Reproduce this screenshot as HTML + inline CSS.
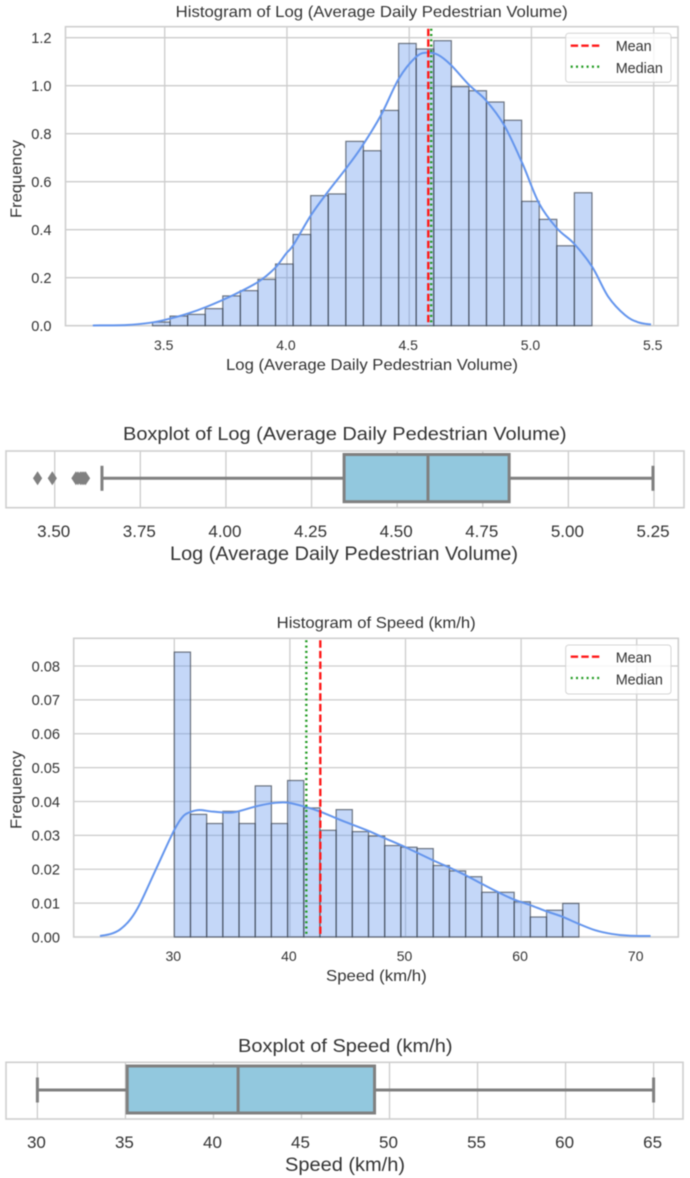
<!DOCTYPE html>
<html lang="en">
<head>
<meta charset="utf-8">
<title>Pedestrian volume and speed distributions</title>
<style>
html,body{margin:0;padding:0;background:#fff;}
body{width:690px;height:1178px;overflow:hidden;}
svg{display:block;filter:blur(0.45px);font-family:"Liberation Sans",Arial,sans-serif;fill:#333333;}
</style>
</head>
<body>
<svg id="fig" width="690" height="1178" viewBox="0 0 690 1178" xmlns="http://www.w3.org/2000/svg">
  <g id="volume-hist"></g>
  <g>
    <rect x="565.7" y="33.3" width="105.3" height="49" rx="3" fill="#fff" fill-opacity="0.8" stroke="#d4d4d4" stroke-width="1"/>
    <line x1="570.7" x2="600.7" y1="45.7" y2="45.7" stroke="#ff1a1a" stroke-width="2.3" stroke-dasharray="7.4 3.2"/>
    <text x="615.7" y="50.8" font-size="14.4">Mean</text>
    <line x1="570.7" x2="600.7" y1="66.7" y2="66.7" stroke="#1f9a1f" stroke-width="2.3" stroke-dasharray="2 3.3"/>
    <text x="615.7" y="73" font-size="14.4">Median</text>
  </g>
  <text x="175.7" y="17" font-size="15.6" textLength="392" lengthAdjust="spacingAndGlyphs">Histogram of Log (Average Daily Pedestrian Volume)</text>
  <text x="226" y="370" font-size="15.6" textLength="292" lengthAdjust="spacingAndGlyphs">Log (Average Daily Pedestrian Volume)</text>
  <text transform="translate(21.5,218) rotate(-90)" font-size="15.6" textLength="78" lengthAdjust="spacingAndGlyphs">Frequency</text>

  <g id="volume-box"></g>
  <text x="123" y="440" font-size="18" textLength="443.5" lengthAdjust="spacingAndGlyphs">Boxplot of Log (Average Daily Pedestrian Volume)</text>
  <text x="170" y="560" font-size="19" textLength="348" lengthAdjust="spacingAndGlyphs">Log (Average Daily Pedestrian Volume)</text>

  <g id="speed-hist"></g>
  <g>
    <rect x="565.7" y="645" width="105.3" height="49" rx="3" fill="#fff" fill-opacity="0.8" stroke="#d4d4d4" stroke-width="1"/>
    <line x1="570.7" x2="600.7" y1="656.7" y2="656.7" stroke="#ff1a1a" stroke-width="2.3" stroke-dasharray="7.4 3.2"/>
    <text x="615.7" y="662.5" font-size="14.4">Mean</text>
    <line x1="570.7" x2="600.7" y1="678" y2="678" stroke="#1f9a1f" stroke-width="2.3" stroke-dasharray="2 3.3"/>
    <text x="615.7" y="684.5" font-size="14.4">Median</text>
  </g>
  <text x="276.7" y="628" font-size="15.6" textLength="199" lengthAdjust="spacingAndGlyphs">Histogram of Speed (km/h)</text>
  <text x="326" y="981" font-size="15.6" textLength="100.7" lengthAdjust="spacingAndGlyphs">Speed (km/h)</text>
  <text transform="translate(21.5,829) rotate(-90)" font-size="15.6" textLength="78" lengthAdjust="spacingAndGlyphs">Frequency</text>

  <g id="speed-box"></g>
  <text x="238" y="1052" font-size="18" textLength="214.5" lengthAdjust="spacingAndGlyphs">Boxplot of Speed (km/h)</text>
  <text x="285" y="1171" font-size="19" textLength="120" lengthAdjust="spacingAndGlyphs">Speed (km/h)</text>
</svg>
<script>
// ---- Histogram of log volume ----
const volumeBinStart = 3.45;
const volumeBinWidth = 0.0719;
const volumeBinValues = [0.015,0.04,0.047,0.071,0.124,0.146,0.193,0.257,0.38,0.542,0.549,0.768,0.729,0.897,1.176,1.153,1.1875,0.996,0.979,0.932,0.856,0.518,0.443,0.333,0.554];
const volumeKdeX = [3.206,3.345,3.44,3.5,3.59,3.672,3.781,3.883,3.951,3.996,4.026,4.098,4.169,4.237,4.306,4.385,4.458,4.528,4.572,4.619,4.671,4.745,4.813,4.888,4.963,5.031,5.104,5.173,5.248,5.314,5.383,5.437,5.489];
const volumeKdeY = [0.001,0.003,0.012,0.024,0.049,0.079,0.128,0.183,0.24,0.3,0.336,0.46,0.56,0.649,0.746,0.878,1.03,1.12,1.1375,1.128,1.086,1.003,0.94,0.836,0.676,0.51,0.406,0.343,0.246,0.121,0.044,0.014,0.005];
const volumeXTicks = [3.5,4.0,4.5,5.0,5.5];
const volumeXTickLabels = ['3.5','4.0','4.5','5.0','5.5'];
const volumeYTicks = [0,0.2,0.4,0.6,0.8,1.0,1.2];
const volumeYTickLabels = ['0.0','0.2','0.4','0.6','0.8','1.0','1.2'];
const volumeMean = 4.578;
const volumeMedian = 4.59;

// ---- Boxplot of log volume ----
const volumeBoxTicks = [3.5,3.75,4.0,4.25,4.5,4.75,5.0,5.25];
const volumeBoxTickLabels = ['3.50','3.75','4.00','4.25','4.50','4.75','5.00','5.25'];
const volumeBoxStats = [3.638,4.345,4.59,4.827,5.247];
const volumeOutliers = [3.45,3.493,3.562,3.568,3.575,3.58,3.585,3.59];

// ---- Histogram of speed ----
const speedBinStart = 30;
const speedBinWidth = 1.4;
const speedBinValues = [0.0841,0.0362,0.0335,0.0371,0.0335,0.0446,0.0335,0.0462,0.0381,0.0315,0.0376,0.0311,0.0298,0.027,0.0265,0.0261,0.0211,0.0195,0.0178,0.0132,0.0132,0.0104,0.0059,0.0079,0.0099];
const speedKdeX = [23.57,24.5,25.3,26.2,27.03,28.48,30,30.78,31.47,32.2,33.37,35.1,37,38.45,39.72,41.25,42.63,44.77,46.8,48.25,50,52.35,53.8,55.15,56.55,58.03,59.36,60.8,62.1,63.56,64.9,66.4,67.84,69.27,71.2];
const speedKdeY = [0.0003,0.0009,0.0022,0.0052,0.0098,0.0205,0.0316,0.0357,0.037,0.0375,0.037,0.0368,0.0385,0.0395,0.0397,0.0385,0.037,0.034,0.0313,0.0291,0.0265,0.0227,0.0205,0.0183,0.0158,0.0132,0.0111,0.0094,0.0077,0.006,0.004,0.002,0.0009,0.0004,0.0003];
const speedXTicks = [30,40,50,60,70];
const speedXTickLabels = ['30','40','50','60','70'];
const speedYTicks = [0,0.01,0.02,0.03,0.04,0.05,0.06,0.07,0.08];
const speedYTickLabels = ['0.00','0.01','0.02','0.03','0.04','0.05','0.06','0.07','0.08'];
const speedMean = 42.63;
const speedMedian = 41.42;

// ---- Boxplot of speed ----
const speedBoxTicks = [30,35,40,45,50,55,60,65];
const speedBoxTickLabels = ['30','35','40','45','50','55','60','65'];
const speedBoxStats = [30,35.1,41.4,49.15,65];
const speedOutliers = [];

const NS = 'http://www.w3.org/2000/svg';
function make(tag, attrs, parent) {
  const el = document.createElementNS(NS, tag);
  for (const k in attrs) el.setAttribute(k, attrs[k]);
  parent.appendChild(el);
  return el;
}
function linear(v0, p0, v1, p1) {
  return v => p0 + (v - v0) * (p1 - p0) / (v1 - v0);
}
function frame(g, box) {
  const f = make('rect', {x: box.l, y: box.t, width: box.r - box.l, height: box.b - box.t, fill: 'none', stroke: '#cfcfcf', 'stroke-width': 1.6}, g);
  
  
}
function xAxis(g, box, xs, ticks, labels, labelY, size) {
  ticks.forEach((t, i) => {
    const line = make('line', {x1: xs(t), x2: xs(t), y1: box.t, y2: box.b, stroke: '#cccccc', 'stroke-width': 1.3}, g);
    
    
    const txt = make('text', {x: xs(t) - 1, y: labelY, 'font-size': size, 'text-anchor': 'middle'}, g);
    txt.textContent = labels[i];
    
    
  });
}
function yAxis(g, box, ys, ticks, labels, labelRight, size) {
  ticks.forEach((t, i) => {
    const line = make('line', {x1: box.l, x2: box.r, y1: ys(t), y2: ys(t), stroke: '#cccccc', 'stroke-width': 1.3}, g);
    
    
    const txt = make('text', {x: labelRight, y: ys(t) + size * 0.36, 'font-size': size, 'text-anchor': 'end'}, g);
    txt.textContent = labels[i];
    
    
  });
}
function smoothPath(px, py) {
  let d = 'M' + px[0].toFixed(2) + ' ' + py[0].toFixed(2);
  for (let i = 0; i < px.length - 1; i++) {
    const a = Math.max(i - 1, 0), b = Math.min(i + 2, px.length - 1);
    const c1x = px[i] + (px[i + 1] - px[a]) / 6, c1y = py[i] + (py[i + 1] - py[a]) / 6;
    const c2x = px[i + 1] - (px[b] - px[i]) / 6, c2y = py[i + 1] - (py[b] - py[i]) / 6;
    d += 'C' + [c1x, c1y, c2x, c2y, px[i + 1], py[i + 1]].map(n => n.toFixed(2)).join(' ');
  }
  return d;
}
function drawHist(g, box, xs, ys, c) {
  xAxis(g, box, xs, c.xTicks, c.xLabels, c.xLabelY, 14);
  yAxis(g, box, ys, c.yTicks, c.yLabels, c.yLabelRight, 14.6);
  frame(g, box);
  c.values.forEach((v, i) => {
    const x0 = xs(c.start + i * c.width), x1 = xs(c.start + (i + 1) * c.width);
    const bar = make('rect', {x: x0, y: ys(v), width: x1 - x0, height: ys(0) - ys(v), fill: '#6495ed', 'fill-opacity': 0.38, stroke: '#3c4450', 'stroke-opacity': 0.72, 'stroke-width': 1.2}, g);
    
    
  });
  const kde = make('path', {d: smoothPath(c.kdeX.map(xs), c.kdeY.map(ys)), fill: 'none', stroke: '#6495ed', 'stroke-width': 2}, g);
  
  
  const mean = make('line', {x1: xs(c.mean), x2: xs(c.mean), y1: box.t + 2, y2: box.b, stroke: '#ff1a1a', 'stroke-width': 2.4, 'stroke-dasharray': '7.4 3.2'}, g);
  
  
  const median = make('line', {x1: xs(c.median), x2: xs(c.median), y1: box.t + 2, y2: box.b, stroke: '#1f9a1f', 'stroke-width': 2.4, 'stroke-dasharray': '2 3.3'}, g);
  
  
}
function drawBox(g, box, xs, c) {
  xAxis(g, box, xs, c.ticks, c.labels, c.labelY, 17);
  frame(g, box);
  const gray = '#808080';
  const [lo, q1, med, q3, hi] = c.stats;
  const wl = make('line', {x1: xs(lo), x2: xs(q1), y1: c.cy, y2: c.cy, stroke: gray, 'stroke-width': 3}, g);
  
  
  const wh = make('line', {x1: xs(q3), x2: xs(hi), y1: c.cy, y2: c.cy, stroke: gray, 'stroke-width': 3}, g);
  
  
  const cl = make('line', {x1: xs(lo), x2: xs(lo), y1: c.cy - 12.5, y2: c.cy + 12.5, stroke: gray, 'stroke-width': 3}, g);
  
  
  const ch = make('line', {x1: xs(hi), x2: xs(hi), y1: c.cy - 12.5, y2: c.cy + 12.5, stroke: gray, 'stroke-width': 3}, g);
  
  
  const body = make('rect', {x: xs(q1), y: c.boxTop, width: xs(q3) - xs(q1), height: c.boxBottom - c.boxTop, fill: '#92c8de', stroke: gray, 'stroke-width': 3}, g);
  
  
  const m = make('line', {x1: xs(med), x2: xs(med), y1: c.boxTop, y2: c.boxBottom, stroke: gray, 'stroke-width': 3}, g);
  
  
  c.outliers.forEach(v => {
    const x = xs(v);
    const o = make('polygon', {points: [x, c.cy - 7, x + 4.6, c.cy, x, c.cy + 7, x - 4.6, c.cy].join(' '), fill: gray}, g);
    
    
  });
}

const box1 = {l: 65.5, r: 678, t: 26.7, b: 325.7};
drawHist(document.getElementById('volume-hist'), box1, linear(3.5, 164.7, 5.5, 653.7), linear(0, 325.7, 1.2, 37.7), {
  start: volumeBinStart, width: volumeBinWidth, values: volumeBinValues,
  kdeX: volumeKdeX, kdeY: volumeKdeY,
  xTicks: volumeXTicks, xLabels: volumeXTickLabels, xLabelY: 350,
  yTicks: volumeYTicks, yLabels: volumeYTickLabels, yLabelRight: 51.5,
  mean: volumeMean, median: volumeMedian
});

const box2 = {l: 6, r: 684, t: 451, b: 507.7};
drawBox(document.getElementById('volume-box'), box2, linear(3.5, 54.7, 5.25, 654), {
  ticks: volumeBoxTicks, labels: volumeBoxTickLabels, labelY: 537,
  stats: volumeBoxStats, outliers: volumeOutliers,
  cy: 478.3, boxTop: 454.5, boxBottom: 501.7
});

const box3 = {l: 73.7, r: 678.3, t: 638.3, b: 937};
drawHist(document.getElementById('speed-hist'), box3, linear(30, 174.3, 70, 636.7), linear(0, 937, 0.08, 666), {
  start: speedBinStart, width: speedBinWidth, values: speedBinValues,
  kdeX: speedKdeX, kdeY: speedKdeY,
  xTicks: speedXTicks, xLabels: speedXTickLabels, xLabelY: 961,
  yTicks: speedYTicks, yLabels: speedYTickLabels, yLabelRight: 60,
  mean: speedMean, median: speedMedian
});

const box4 = {l: 6, r: 683, t: 1062.3, b: 1119};
drawBox(document.getElementById('speed-box'), box4, linear(30, 37.4, 65, 653.6), {
  ticks: speedBoxTicks, labels: speedBoxTickLabels, labelY: 1148,
  stats: speedBoxStats, outliers: speedOutliers,
  cy: 1090, boxTop: 1066, boxBottom: 1113
});
</script>
</body>
</html>
